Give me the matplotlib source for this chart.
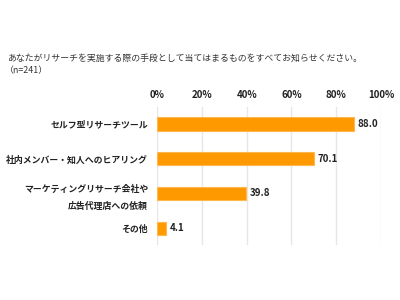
import matplotlib
matplotlib.use("Agg")
import matplotlib.pyplot as plt

plt.rcParams['font.family'] = ['Noto Sans CJK JP', 'DejaVu Sans']

categories = ["セルフ型リサーチツール", "社内メンバー・知人へのヒアリング",
              "マーケティングリサーチ会社や\n広告代理店への依頼", "その他"]
values = [88.0, 70.1, 39.8, 4.1]
xticks = [0, 20, 40, 60, 80, 100]
xticklabels = ["0%", "20%", "40%", "60%", "80%", "100%"]
title = "あなたがリサーチを実施する際の手段として当てはまるものをすべてお知らせください。"
subtitle = "（n=241）"

fig = plt.figure(figsize=(4, 3), dpi=100)
ax = fig.add_axes([0.393, 0.1833, 0.5595, 0.46])

y = list(range(len(categories)))
ax.barh(y, values, height=0.375, color="#FF9900", edgecolor="#FFB84D", linewidth=0.8, zorder=3)
for yi, v in zip(y, values):
    ax.text(v + 1.5, yi, f"{v:.1f}", va="center", ha="left", fontsize=7, fontweight="bold", color="#222222")

ax.set_xlim(0, 100)
ax.set_ylim(3.49, -0.49)
ax.set_xticks(xticks)
ax.set_xticklabels(xticklabels, fontsize=7, fontweight="bold", color="#222222")
ax.xaxis.tick_top()
ax.tick_params(axis="x", length=0, pad=5)
ax.set_yticks(y)
ax.set_yticklabels(categories, fontsize=6.4, fontweight="bold", color="#222222", linespacing=2.0)
ax.tick_params(axis="y", length=0, pad=6.5)
ax.grid(axis="x", color="#e6e6e6", linewidth=1.0, zorder=0)
for s in ax.spines.values():
    s.set_visible(False)

fig.text(0.018, 0.807, title, fontsize=6.4, color="#333333", va="center", ha="left")
fig.text(0.012, 0.763, subtitle, fontsize=6.4, color="#333333", va="center", ha="left")

fig.savefig("out.png", dpi=100)
